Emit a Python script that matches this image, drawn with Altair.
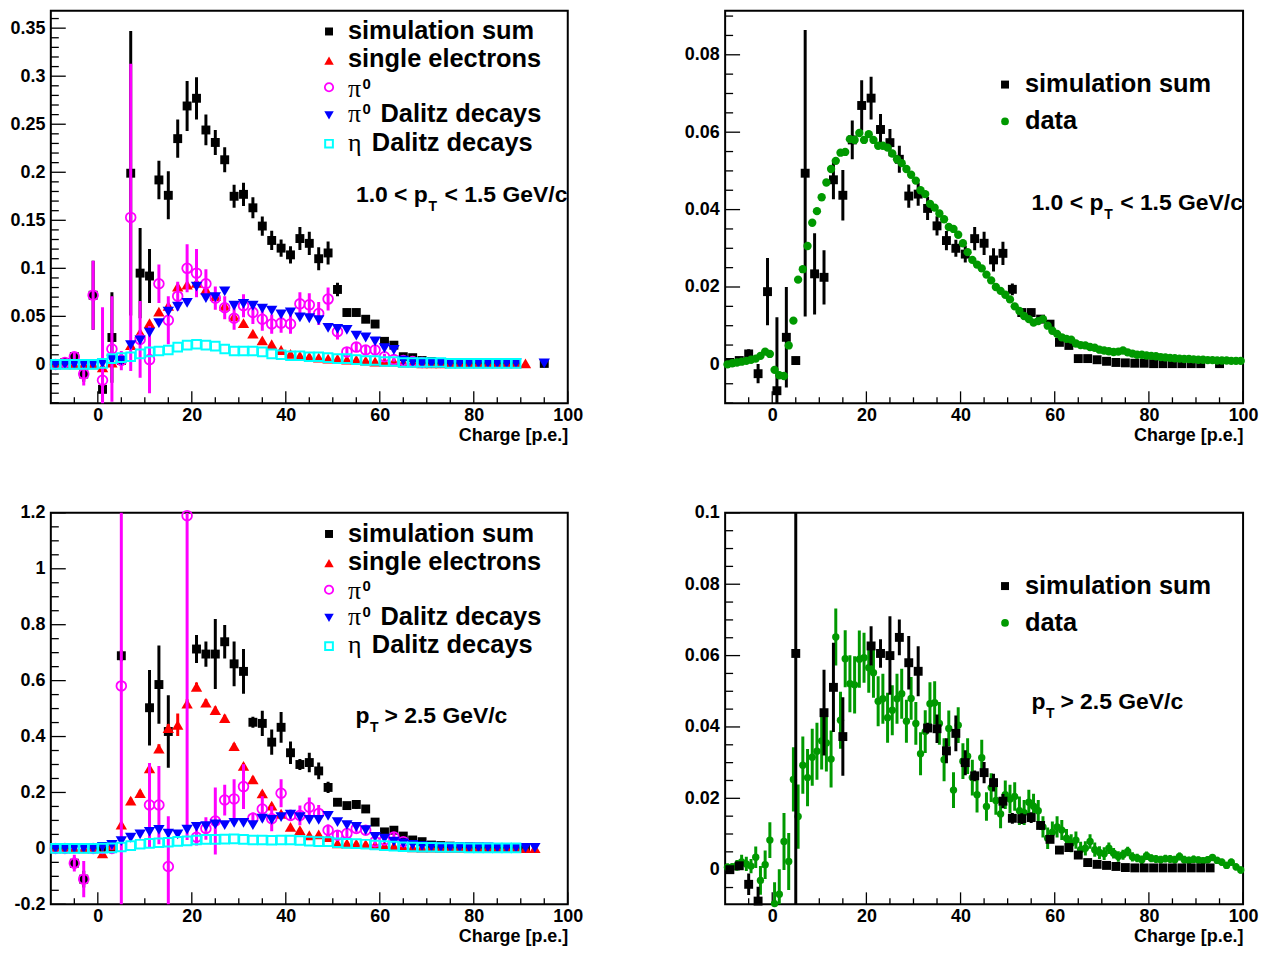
import altair as alt
import pandas as pd

FONT = "Liberation Sans"
SERIF = "Liberation Serif"
BLACK, RED, MAGENTA, BLUE, CYAN, GREEN = "#000000", "#ff0000", "#ff00ff", "#0000ff", "#00ffff", "#009900"

# ---------------- bin centres ----------------
bins = list(range(-9, 90, 2))                       # -9 ... 89 (2 p.e. bins)
data_x = [v + 0.5 for v in range(-10, 100)]         # -9.5 ... 99.5 (1 p.e. bins)

# ---------------- top row: 1.0 < pT < 1.5 GeV/c ----------------
sum1_x = bins + [95]
sum1_y = [0.000, 0.002, 0.008, -0.010, 0.072, -0.026, 0.028, 0.004, 0.199, 0.095,
          0.092, 0.192, 0.176, 0.235, 0.269, 0.277, 0.244, 0.231, 0.213, 0.175,
          0.177, 0.163, 0.144, 0.129, 0.121, 0.114, 0.131, 0.126, 0.110, 0.116,
          0.078, 0.054, 0.054, 0.047, 0.042, 0.024, 0.020, 0.008, 0.007, 0.004,
          0.003, 0.002, 0.002, 0.001, 0.001, 0.001, 0.001, 0.001, 0.001, 0.001,
          0.001]
sum1_e = [0.002, 0.003, 0.005, 0.008, 0.036, 0.012, 0.047, 0.004, 0.148, 0.047,
          0.028, 0.020, 0.025, 0.020, 0.026, 0.022, 0.016, 0.013, 0.013, 0.012,
          0.012, 0.011, 0.010, 0.010, 0.009, 0.009, 0.012, 0.012, 0.012, 0.012,
          0.007, 0.004, 0.004, 0.004, 0.004, 0.003, 0.003, 0.002, 0.002, 0.001,
          0.001, 0.001, 0.001, 0.001, 0.001, 0.001, 0.001, 0.001, 0.001, 0.001,
          0.001]
ele1_x = bins + [91]
ele1_y = [0.000, 0.000, 0.000, 0.000, 0.000, -0.003, 0.002, 0.008, 0.020, 0.033,
          0.043, 0.055, 0.061, 0.081, 0.083, 0.085, 0.078, 0.071, 0.061, 0.050,
          0.043, 0.032, 0.025, 0.021, 0.015, 0.011, 0.009, 0.008, 0.007, 0.006,
          0.006, 0.005, 0.005, 0.004, 0.003, 0.003, 0.003, 0.002, 0.002, 0.001,
          0.001, 0.001, 0.001, 0.001, 0.001, 0.001, 0.001, 0.001, 0.001, 0.001,
          0.001]
pi1_x = bins[:40]
pi1_y = [0.000, 0.002, 0.008, -0.010, 0.072, -0.0165, 0.016, 0.004, 0.153, 0.026,
         0.005, 0.084, 0.046, 0.071, 0.100, 0.095, 0.084, 0.069, 0.059, 0.048,
         0.061, 0.054, 0.047, 0.042, 0.043, 0.042, 0.063, 0.062, 0.053, 0.068,
         0.034, 0.013, 0.018, 0.015, 0.015, 0.008, 0.005, 0.004, 0.003, 0.002]
pi1_e = [0.002, 0.003, 0.005, 0.012, 0.036, 0.076, 0.055, 0.010, 0.160, 0.040,
         0.035, 0.020, 0.025, 0.015, 0.025, 0.025, 0.015, 0.012, 0.012, 0.012,
         0.012, 0.012, 0.012, 0.010, 0.010, 0.010, 0.012, 0.012, 0.012, 0.012,
         0.008, 0.004, 0.005, 0.005, 0.005, 0.003, 0.002, 0.002, 0.001, 0.001]
dal1_x = bins + [95]
dal1_y = [0.000, 0.000, 0.000, 0.000, 0.000, 0.001, 0.005, 0.004, 0.020, 0.025,
          0.033, 0.043, 0.055, 0.060, 0.064, 0.081, 0.069, 0.070, 0.076, 0.061,
          0.063, 0.061, 0.058, 0.056, 0.052, 0.054, 0.049, 0.048, 0.046, 0.038,
          0.037, 0.036, 0.030, 0.028, 0.024, 0.017, 0.015, 0.004, 0.002, 0.001,
          0.001, 0.001, 0.001, 0.001, 0.001, 0.001, 0.001, 0.001, 0.001, 0.001,
          0.001]
eta1_x = bins
eta1_y = [0.000, 0.000, 0.000, 0.000, 0.000, 0.001, 0.006, 0.007, 0.008, 0.011,
          0.013, 0.014, 0.015, 0.018, 0.020, 0.021, 0.020, 0.019, 0.016, 0.014,
          0.014, 0.014, 0.013, 0.011, 0.010, 0.009, 0.009, 0.008, 0.008, 0.007,
          0.006, 0.006, 0.005, 0.004, 0.004, 0.003, 0.003, 0.002, 0.002, 0.002,
          0.002, 0.002, 0.001, 0.001, 0.001, 0.001, 0.001, 0.001, 0.001, 0.001]

sum2_x = bins + [91, 95]
sum2_y = [0.0005, 0.0010, 0.0027, -0.0024, 0.0188, -0.0068, 0.0070, 0.0010, 0.0494, 0.0234,
          0.0225, 0.0477, 0.0437, 0.0580, 0.0669, 0.0688, 0.0607, 0.0573, 0.0530, 0.0435,
          0.0440, 0.0403, 0.0358, 0.0320, 0.0300, 0.0285, 0.0325, 0.0313, 0.0270, 0.0287,
          0.0194, 0.0134, 0.0134, 0.0117, 0.0104, 0.0057, 0.0049, 0.0015, 0.0015, 0.0012,
          0.0008, 0.0005, 0.0004, 0.0003, 0.0003, 0.0002, 0.0002, 0.0002, 0.0002, 0.0002,
          0.0002, 0.0002]
sum2_e = [0.0005, 0.0008, 0.0012, 0.0025, 0.0087, 0.0190, 0.0130, 0.0010, 0.0370, 0.0105,
          0.0070, 0.0050, 0.0065, 0.0050, 0.0065, 0.0055, 0.0040, 0.0035, 0.0035, 0.0030,
          0.0030, 0.0030, 0.0025, 0.0025, 0.0022, 0.0022, 0.0030, 0.0030, 0.0030, 0.0030,
          0.0015, 0.0010, 0.0010, 0.0010, 0.0010, 0.0008, 0.0008, 0.0005, 0.0005, 0.0004,
          0.0003, 0.0003, 0.0003, 0.0003, 0.0003, 0.0003, 0.0003, 0.0003, 0.0003, 0.0003,
          0.0003, 0.0003]
data2_y = [0.0000, 0.0003, 0.0005, 0.0007, 0.0009, 0.0012, 0.0015, 0.0022, 0.0033, 0.0027,
           -0.0014, -0.0028, -0.0030, 0.0049, 0.0113, 0.0219, 0.0246, 0.0306, 0.0366, 0.0396,
           0.0432, 0.0470, 0.0505, 0.0526, 0.0547, 0.0549, 0.0582, 0.0580, 0.0598, 0.0580,
           0.0595, 0.0580, 0.0565, 0.0565, 0.0560, 0.0545, 0.0530, 0.0520, 0.0505, 0.0490,
           0.0475, 0.0450, 0.0440, 0.0415, 0.0405, 0.0390, 0.0375, 0.0355, 0.0350, 0.0335,
           0.0313, 0.0290, 0.0270, 0.0258, 0.0248, 0.0232, 0.0217, 0.0200, 0.0190, 0.0180,
           0.0168, 0.0150, 0.0138, 0.0125, 0.0117, 0.0108, 0.0112, 0.0117, 0.0100, 0.0087,
           0.0079, 0.0070, 0.0066, 0.0064, 0.0054, 0.0050, 0.0049, 0.0045, 0.0043, 0.0038,
           0.0036, 0.0034, 0.0032, 0.0033, 0.0036, 0.0031, 0.0028, 0.0025, 0.0025, 0.0023,
           0.0022, 0.0021, 0.0019, 0.0018, 0.0017, 0.0016, 0.0015, 0.0014, 0.0014, 0.0013,
           0.0012, 0.0012, 0.0011, 0.0011, 0.0010, 0.0010, 0.0010, 0.0009, 0.0009, 0.0009]

# ---------------- bottom row: pT > 2.5 GeV/c ----------------
sum3_x = [-9, -7, -5, -3, -1, 1, 3, 5, 11, 13, 15] + list(range(21, 92, 2))
sum3_y = [0.000, 0.000, -0.053, -0.110, 0.000, 0.000, 0.005, 0.689, 0.503, 0.586, 0.418,
          0.713, 0.695, 0.695, 0.739, 0.660, 0.633, 0.451, 0.447, 0.380, 0.433,
          0.342, 0.300, 0.307, 0.277, 0.218, 0.165, 0.153, 0.157, 0.141, 0.094,
          0.059, 0.065, 0.044, 0.030, 0.024, 0.012, 0.010, 0.008, 0.006, 0.005,
          0.004, 0.003, 0.003, 0.002, 0.002, 0.002]
sum3_e = [0.003, 0.003, 0.020, 0.030, 0.003, 0.003, 0.005, 0.020, 0.135, 0.140, 0.130,
          0.050, 0.045, 0.125, 0.060, 0.080, 0.080, 0.020, 0.045, 0.045, 0.055,
          0.040, 0.020, 0.035, 0.030, 0.020, 0.010, 0.010, 0.015, 0.010, 0.010,
          0.008, 0.010, 0.006, 0.005, 0.004, 0.003, 0.002, 0.002, 0.002, 0.002,
          0.002, 0.002, 0.002, 0.002, 0.002, 0.002]
ele3_x = list(range(-9, 94, 2))
ele3_y = [0.000, 0.000, 0.000, 0.000, 0.000, -0.018, 0.010, 0.085, 0.171, 0.198,
          0.286, 0.357, 0.430, 0.442, 0.518, 0.578, 0.521, 0.495, 0.466, 0.366,
          0.295, 0.247, 0.197, 0.153, 0.124, 0.077, 0.065, 0.047, 0.050, 0.040,
          0.018, 0.018, 0.017, 0.015, 0.012, 0.010, 0.008, 0.006, 0.004, 0.003,
          0.003, 0.002, 0.002, 0.002, 0.001, 0.001, 0.001, 0.001, 0.001, 0.001,
          0.001, 0.001]
ele3_e = [0.002, 0.002, 0.002, 0.002, 0.002, 0.005, 0.005, 0.008, 0.010, 0.010,
          0.012, 0.015, 0.015, 0.040, 0.015, 0.015, 0.012, 0.012, 0.012, 0.010,
          0.010, 0.010, 0.008, 0.008, 0.008, 0.006, 0.006, 0.005, 0.005, 0.005,
          0.004, 0.004, 0.004, 0.004, 0.004, 0.004, 0.004, 0.004, 0.004, 0.004,
          0.002, 0.002, 0.002, 0.002, 0.002, 0.002, 0.002, 0.002, 0.002, 0.002,
          0.002, 0.002]
pi3_x = [-9, -7, -5, -3, -1, 1, 3, 5, 11, 13, 15, 19] + list(range(21, 66, 2))
pi3_y = [0.000, 0.000, -0.053, -0.110, 0.000, 0.000, 0.000, 0.581, 0.155, 0.155, -0.065, 1.190,
         0.040, 0.071, 0.098, 0.173, 0.177, 0.221, 0.108, 0.141, 0.106, 0.197,
         0.118, 0.118, 0.147, 0.125, 0.065, 0.047, 0.053, 0.071, 0.065, 0.024,
         0.030, 0.041, 0.024]
pi3_e = [0.005, 0.005, 0.030, 0.065, 0.005, 0.005, 0.005, 0.900, 0.150, 0.140, 0.180, 1.160,
         0.030, 0.040, 0.120, 0.055, 0.070, 0.080, 0.020, 0.045, 0.045, 0.050,
         0.020, 0.035, 0.035, 0.030, 0.020, 0.015, 0.015, 0.015, 0.015, 0.010,
         0.010, 0.015, 0.010]
dal3_x = list(range(-9, 94, 2))
dal3_y = [0.000, 0.000, 0.000, 0.000, 0.000, 0.005, 0.012, 0.026, 0.038, 0.050,
          0.059, 0.066, 0.053, 0.050, 0.067, 0.077, 0.079, 0.086, 0.083, 0.091,
          0.091, 0.083, 0.106, 0.102, 0.112, 0.121, 0.112, 0.102, 0.102, 0.116,
          0.094, 0.083, 0.077, 0.065, 0.041, 0.035, 0.024, 0.018, 0.012, 0.008,
          0.006, 0.005, 0.004, 0.004, 0.003, 0.003, 0.003, 0.002, 0.002, 0.002,
          0.002, 0.002]
eta3_x = bins
eta3_y = [0.000, 0.000, 0.000, 0.000, 0.000, 0.001, 0.002, 0.005, 0.010, 0.015,
          0.018, 0.020, 0.022, 0.025, 0.027, 0.030, 0.032, 0.032, 0.033, 0.034,
          0.032, 0.030, 0.030, 0.029, 0.030, 0.030, 0.028, 0.026, 0.024, 0.024,
          0.020, 0.018, 0.017, 0.015, 0.012, 0.010, 0.008, 0.006, 0.005, 0.004,
          0.004, 0.003, 0.003, 0.003, 0.002, 0.002, 0.002, 0.002, 0.002, 0.002]

sum4_x = [-9, -7, -5, -3, 5, 11, 13, 15] + list(range(21, 94, 2))
sum4_y = [0.0000, 0.0011, -0.0041, -0.0088, 0.0606, 0.0440, 0.0511, 0.0373,
          0.0627, 0.0606, 0.0600, 0.0651, 0.0580, 0.0556, 0.0397, 0.0395, 0.0333, 0.0382,
          0.0300, 0.0263, 0.0272, 0.0244, 0.0192, 0.0144, 0.0143, 0.0146, 0.0124, 0.0085,
          0.0055, 0.0062, 0.0041, 0.0020, 0.0015, 0.0012, 0.0009, 0.0006, 0.0005, 0.0005,
          0.0005, 0.0005, 0.0005, 0.0005, 0.0005, 0.0005, 0.0005]
sum4_e = [0.0005, 0.0010, 0.0030, 0.0040, 0.0750, 0.0120, 0.0125, 0.0110,
          0.0055, 0.0040, 0.0110, 0.0050, 0.0075, 0.0070, 0.0015, 0.0040, 0.0035, 0.0050,
          0.0035, 0.0015, 0.0030, 0.0025, 0.0020, 0.0015, 0.0015, 0.0015, 0.0012, 0.0010,
          0.0010, 0.0010, 0.0008, 0.0005, 0.0005, 0.0003, 0.0003, 0.0002, 0.0002, 0.0002,
          0.0002, 0.0002, 0.0002, 0.0002, 0.0002, 0.0002, 0.0002]
data4_y = [0.0007, 0.0008, 0.0012, 0.0022, 0.0016, 0.0010, 0.0035, -0.0030, 0.0014, 0.0083,
           -0.0095, -0.0069, 0.0079, 0.0023, 0.0253, 0.0149, 0.0293, 0.0258, 0.0315, 0.0332,
           0.0361, 0.0355, 0.0310, 0.0652, 0.0419, 0.0591, 0.0521, 0.0518, 0.0590, 0.0594,
           0.0566, 0.0552, 0.0472, 0.0479, 0.0426, 0.0447, 0.0479, 0.0493, 0.0416, 0.0480,
           0.0410, 0.0325, 0.0387, 0.0465, 0.0468, 0.0410, 0.0308, 0.0396, 0.0223, 0.0405,
           0.0304, 0.0318, 0.0258, 0.0210, 0.0314, 0.0177, 0.0230, 0.0194, 0.0156, 0.0210,
           0.0198, 0.0205, 0.0165, 0.0160, 0.0189, 0.0178, 0.0165, 0.0120, 0.0088, 0.0105,
           0.0120, 0.0111, 0.0088, 0.0074, 0.0083, 0.0056, 0.0060, 0.0079, 0.0056, 0.0048,
           0.0045, 0.0060, 0.0046, 0.0037, 0.0042, 0.0051, 0.0036, 0.0033, 0.0028, 0.0039,
           0.0032, 0.0030, 0.0028, 0.0031, 0.0030, 0.0028, 0.0037, 0.0028, 0.0026, 0.0029,
           0.0027, 0.0025, 0.0028, 0.0034, 0.0026, 0.0021, 0.0012, 0.0021, 0.0008, -0.0001]
data4_e = [0.0010, 0.0010, 0.0015, 0.0020, 0.0020, 0.0020, 0.0030, 0.0040, 0.0040, 0.0050,
           0.0060, 0.0070, 0.0080, 0.0080, 0.0090, 0.0090, 0.0080, 0.0080, 0.0080, 0.0080,
           0.0080, 0.0080, 0.0080, 0.0080, 0.0080, 0.0080, 0.0080, 0.0080, 0.0080, 0.0070,
           0.0070, 0.0070, 0.0070, 0.0070, 0.0070, 0.0070, 0.0070, 0.0070, 0.0060, 0.0060,
           0.0060, 0.0060, 0.0060, 0.0060, 0.0060, 0.0060, 0.0060, 0.0050, 0.0050, 0.0050,
           0.0050, 0.0050, 0.0050, 0.0050, 0.0050, 0.0040, 0.0040, 0.0040, 0.0040, 0.0040,
           0.0040, 0.0040, 0.0040, 0.0035, 0.0035, 0.0035, 0.0030, 0.0030, 0.0030, 0.0030,
           0.0030, 0.0028, 0.0026, 0.0025, 0.0024, 0.0022, 0.0020, 0.0020, 0.0020, 0.0018,
           0.0018, 0.0016, 0.0015, 0.0015, 0.0014, 0.0013, 0.0013, 0.0012, 0.0012, 0.0012,
           0.0011, 0.0011, 0.0011, 0.0011, 0.0011, 0.0011, 0.0011, 0.0011, 0.0011, 0.0011,
           0.0010, 0.0010, 0.0010, 0.0010, 0.0010, 0.0010, 0.0010, 0.0010, 0.0010, 0.0010]

# ---------------- axes ----------------
x_major = [0, 20, 40, 60, 80, 100]
x_minor = [-5, 5, 10, 15, 25, 30, 35, 45, 50, 55, 65, 70, 75, 85, 90, 95]
y1_major = [0, 0.05, 0.1, 0.15, 0.2, 0.25, 0.3, 0.35]
y2_major = [0, 0.02, 0.04, 0.06, 0.08]
y3_major = [-0.2, 0, 0.2, 0.4, 0.6, 0.8, 1, 1.2]
y4_major = [0, 0.02, 0.04, 0.06, 0.08, 0.1]
y1_minor = [round(-0.04 + 0.01 * i, 3) for i in range(41)]
y2_minor = [round(-0.01 + 0.005 * i, 4) for i in range(21)]
y3_minor = [round(-0.2 + 0.05 * i, 3) for i in range(29)]
y4_minor = [round(-0.005 + 0.005 * i, 4) for i in range(22)]

legend_sim = ["simulation sum", "single electrons", "π", "0", "Dalitz decays", "η", "data"]
label_top = ["1.0 < p", "T", "< 1.5 GeV/c"]
label_bot = ["p", "T", "> 2.5 GeV/c"]
x_title = "Charge [p.e.]"

ONE = pd.DataFrame({"k": [0]})
XDOM = [-10, 100]
LABEL_EXPR = "datum.value < 0 ? '-' + format(-datum.value, '~g') : format(datum.value, '~g')"


def make_panel(W, H, ydom, ymaj, ymin, series, extras):
    xs = alt.Scale(domain=XDOM, nice=False, zero=False)
    ys = alt.Scale(domain=ydom, nice=False, zero=False)
    AX = alt.Axis(values=x_major, ticks=False, domain=False, grid=False,
                  labelFont=FONT, labelFontSize=18, labelFontWeight="bold",
                  labelColor=BLACK, labelPadding=3, labelOverlap=False,
                  labelFlush=False, format="d",
                  title=x_title, titleFont=FONT, titleFontSize=18,
                  titleFontWeight="bold", titleColor=BLACK,
                  titleAnchor="end", titleAlign="right", titlePadding=2)
    AY = alt.Axis(values=ymaj, ticks=False, domain=False, grid=False,
                  labelFont=FONT, labelFontSize=18, labelFontWeight="bold",
                  labelColor=BLACK, labelPadding=6, labelExpr=LABEL_EXPR,
                  labelOverlap=False, labelFlush=False, title=None)

    def X(f):
        return alt.X(f, scale=xs, axis=AX)

    def Y(f):
        return alt.Y(f, scale=ys, axis=AY)

    layers = []
    # inner ticks
    ymin_only = [v for v in ymin if v not in ymaj and ydom[0] <= v <= ydom[1]]
    layers.append(alt.Chart(pd.DataFrame({"v": ymaj})).mark_rule(color=BLACK, strokeWidth=1.3).encode(
        y=Y("v:Q"), x=alt.value(0), x2=alt.value(15)))
    layers.append(alt.Chart(pd.DataFrame({"v": ymin_only})).mark_rule(color=BLACK, strokeWidth=1.3).encode(
        y=Y("v:Q"), x=alt.value(0), x2=alt.value(8)))
    layers.append(alt.Chart(pd.DataFrame({"v": x_major})).mark_rule(color=BLACK, strokeWidth=1.3).encode(
        x=X("v:Q"), y=alt.value(H), y2=alt.value(H - 12)))
    layers.append(alt.Chart(pd.DataFrame({"v": x_minor})).mark_rule(color=BLACK, strokeWidth=1.3).encode(
        x=X("v:Q"), y=alt.value(H), y2=alt.value(H - 6)))
    # data series
    for s in series:
        df = pd.DataFrame({"x": s["x"], "y": s["y"]})
        if s.get("e") is not None:
            df["lo"] = [a - b for a, b in zip(s["y"], s["e"])]
            df["hi"] = [a + b for a, b in zip(s["y"], s["e"])]
            layers.append(alt.Chart(df).mark_rule(color=s["color"], strokeWidth=s.get("ew", 3), clip=True).encode(
                x=X("x:Q"), y=Y("lo:Q"), y2="hi:Q"))
        layers.append(alt.Chart(df).mark_point(shape=s["shape"], filled=s["filled"], size=s["size"],
                                               color=s["color"], opacity=1, strokeWidth=s.get("sw", 1.8)).encode(
            x=X("x:Q"), y=Y("y:Q")))
    layers.extend(extras)
    return alt.layer(*layers).properties(width=W, height=H)


def mk(shape, color, size, filled, x, y, sw=1.8):
    return alt.Chart(ONE).mark_point(shape=shape, filled=filled, size=size, color=color, opacity=1,
                                     strokeWidth=sw).encode(x=alt.value(x), y=alt.value(y))


def tx(s, x, y, size, font=FONT, weight="bold"):
    return alt.Chart(ONE).mark_text(text=s, font=font, fontSize=size, fontWeight=weight, align="left",
                                    baseline="alphabetic", color=BLACK).encode(x=alt.value(x), y=alt.value(y))


LS = 25.5   # legend font size
PS = 23     # pT label font size


def legend_components(dy=0.0):
    MX, TX = 279.3, 298.3
    return [
        mk("square", BLACK, 64, True, MX, 20.7 + dy),
        tx(legend_sim[0], TX, 28.4 + dy, LS),
        mk("triangle-up", RED, 90, True, MX, 50 + dy),
        tx(legend_sim[1], TX, 56.5 + dy, LS),
        mk("circle", MAGENTA, 70, False, MX, 76.7 + dy),
        tx(legend_sim[2], TX, 86 + dy, 26, SERIF, "normal"),
        tx(legend_sim[3], TX + 14.5, 78 + dy, 15),
        mk("triangle-down", BLUE, 90, True, MX, 105 + dy),
        tx(legend_sim[2], TX, 112 + dy, 26, SERIF, "normal"),
        tx(legend_sim[3], TX + 14.5, 104 + dy, 15),
        tx(legend_sim[4], 331, 112 + dy, LS),
        mk("square", CYAN, 60, False, MX, 133.4 + dy, 2),
        tx(legend_sim[5], TX, 140.5 + dy, 26, SERIF, "normal"),
        tx(legend_sim[4], 322.3, 140.5 + dy, LS),
    ]


def legend_data(dy=0.0):
    return [
        mk("square", BLACK, 64, True, 281, 74 + dy),
        tx(legend_sim[0], 301, 81.7 + dy, LS),
        mk("circle", GREEN, 60, True, 281, 111 + dy),
        tx(legend_sim[6], 301, 119 + dy, LS),
    ]


def label_top_comp(x0, yb):
    return [tx(label_top[0], x0, yb, PS), tx(label_top[1], x0 + 73, yb + 9, 14),
            tx(label_top[2], x0 + 89, yb, PS)]


def label_bot_comp(x0, yb):
    return [tx(label_bot[0], x0, yb, PS), tx(label_bot[1], x0 + 14.5, yb + 9, 14),
            tx(label_bot[2], x0 + 29, yb, PS)]


def sim_series(sx, sy, se, ex, ey, ee, px, py, pe, dx, dy, cx, cy):
    return [
        dict(x=sx, y=sy, e=se, color=BLACK, shape="square", filled=True, size=80),
        dict(x=ex, y=ey, e=ee, color=RED, shape="triangle-up", filled=True, size=130),
        dict(x=px, y=py, e=pe, color=MAGENTA, shape="circle", filled=False, size=95),
        dict(x=dx, y=dy, e=None, color=BLUE, shape="triangle-down", filled=True, size=130),
        dict(x=cx, y=cy, e=None, color=CYAN, shape="square", filled=False, size=75, sw=2),
    ]


H_TOP, H_BOT = 394, 393

p1 = make_panel(519, H_TOP, [-0.0405, 0.368], y1_major, y1_minor,
                sim_series(sum1_x, sum1_y, sum1_e, ele1_x, ele1_y, None, pi1_x, pi1_y, pi1_e,
                           dal1_x, dal1_y, eta1_x, eta1_y),
                legend_components() + label_top_comp(306.3, 191.7))

p2 = make_panel(520, H_TOP, [-0.01005, 0.09135], y2_major, y2_minor,
                [dict(x=sum2_x, y=sum2_y, e=sum2_e, color=BLACK, shape="square", filled=True, size=80),
                 dict(x=data_x, y=data2_y, e=None, color=GREEN, shape="circle", filled=True, size=70)],
                legend_data() + label_top_comp(307.6, 200))

p3 = make_panel(519, H_BOT, [-0.2, 1.2], y3_major, y3_minor,
                sim_series(sum3_x, sum3_y, sum3_e, ele3_x, ele3_y, ele3_e, pi3_x, pi3_y, pi3_e,
                           dal3_x, dal3_y, eta3_x, eta3_y),
                legend_components(0.5) + label_bot_comp(306, 211))

p4 = make_panel(520, H_BOT, [-0.0097, 0.1], y4_major, y4_minor,
                [dict(x=data_x, y=data4_y, e=data4_e, color=GREEN, shape="circle", filled=True, size=55),
                 dict(x=sum4_x, y=sum4_y, e=sum4_e, color=BLACK, shape="square", filled=True, size=80)],
                legend_data(-0.5) + label_bot_comp(307.6, 197))

top = alt.hconcat(p1, p2, spacing=98)
bottom = alt.hconcat(p3, p4, spacing=98)
chart = alt.vconcat(top, bottom, spacing=58).properties(
    padding={"left": 0, "top": 0, "right": 0, "bottom": 0}, background="white"
).configure_view(stroke=BLACK, strokeWidth=2)

chart.save("out.html", embed_options={"renderer": "svg", "actions": False})
